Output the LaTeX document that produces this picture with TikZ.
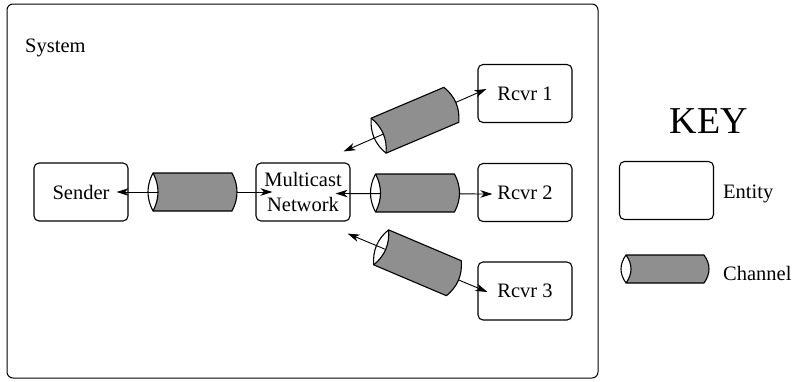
\documentclass[tikz,border=0pt]{standalone}
\usepackage{fontspec}
\setmainfont{Liberation Serif}
\usetikzlibrary{arrows.meta,calc}
\definecolor{changray}{rgb}{0.56,0.56,0.56}
\newcommand\fsz{\fontsize{20.5}{24.5}\selectfont}
\tikzset{
  entity/.style={draw, rounded corners=5pt, line width=1.1pt, minimum width=94pt,
    minimum height=58pt, inner sep=0pt, align=center, font=\fsz},
  lbl/.style={inner sep=0pt, font=\fsz, anchor=base west},
  conn/.style={line width=0.9pt,
    {Stealth[length=12pt,width=7.5pt,inset=3.5pt]}-{Stealth[length=12pt,width=7.5pt,inset=3.5pt]}},
  chanbody/.style={fill=changray, draw=black, line width=1.1pt, line join=round},
  chanline/.style={draw=black, line width=1.1pt},
  pics/channel/.style 2 args={code={
    \pgfmathsetmacro\ca{#1/2-5}
    \pgfmathsetmacro\cb{\ca+6.67}
    \pgfmathsetmacro\cc{-\ca+6.67}
    \pgfmathsetmacro\cd{-\ca-6.67}
    \pgfmathsetmacro\hh{#2/2}
    \pgfmathsetmacro\ht{#2/6}
    \path[chanbody] (-\ca pt,\hh pt) -- (\ca pt,\hh pt)
      .. controls (\cb pt,\ht pt) and (\cb pt,-\ht pt) .. (\ca pt,-\hh pt)
      -- (-\ca pt,-\hh pt)
      .. controls (\cc pt,-\ht pt) and (\cc pt,\ht pt) .. cycle;
    \path[chanline] (-\ca pt,\hh pt)
      .. controls (\cd pt,\ht pt) and (\cd pt,-\ht pt) .. (-\ca pt,-\hh pt);
  }}
}
\begin{document}
\begin{tikzpicture}[x=1pt,y=-1pt]
\useasboundingbox (0,0) rectangle (797,381);
\draw[line width=1pt, rounded corners=6pt] (7,4) rectangle (598,378);
\node[lbl] (sys) at (25,52) {System};

\node[entity] (sender) at (81,192) {Sender};
\node[entity] (mc) at (303,192) {Multicast\\Network};
\node[entity] (r1) at (525,93.5) {Rcvr 1};
\node[entity] (r2) at (525,192.5) {Rcvr 2};
\node[entity] (r3) at (525,291) {Rcvr 3};

% connectors
\coordinate (a0) at ([xshift=-12pt]sender.east);
\coordinate (a1) at ([xshift=17pt]mc.west);
\coordinate (b0) at ([shift={(-15,1.5)}]mc.east);
\coordinate (b1) at ([shift={(15,1.5)}]r2.west);
\coordinate (c0) at ([shift={(-7,-11)}]mc.north east);
\coordinate (c1) at ([shift={(9,-4.5)}]r1.west);
\coordinate (d0) at ([shift={(-3,12)}]mc.south east);
\coordinate (d1) at ([shift={(10,1)}]r3.west);
\draw[conn] (a1) -- (a0);
\draw[conn] (b0) -- (b1);
\draw[conn] (c0) -- (c1);
\draw[conn] (d0) -- (d1);

\pic at (192.5,192) {channel={89}{38}};
\pic at (415,193) {channel={89}{38}};
\pic[rotate=23] at ($(c0)!0.5!(c1)$) {channel={89}{38}};
\pic[rotate=-23] at ($(d0)!0.5!(d1)$) {channel={89}{38}};

% key
\node[inner sep=0pt, font=\fontsize{38}{44}\selectfont, anchor=base] (key) at (709,133) {KEY};
\node[entity] (keyent) at (666.5,190.5) {};
\node[lbl] (entlbl) at (723,198) {Entity};
\pic at (665,269) {channel={88}{28}};
\node[lbl] (chlbl) at (723,280) {Channel};
\end{tikzpicture}
\end{document}
